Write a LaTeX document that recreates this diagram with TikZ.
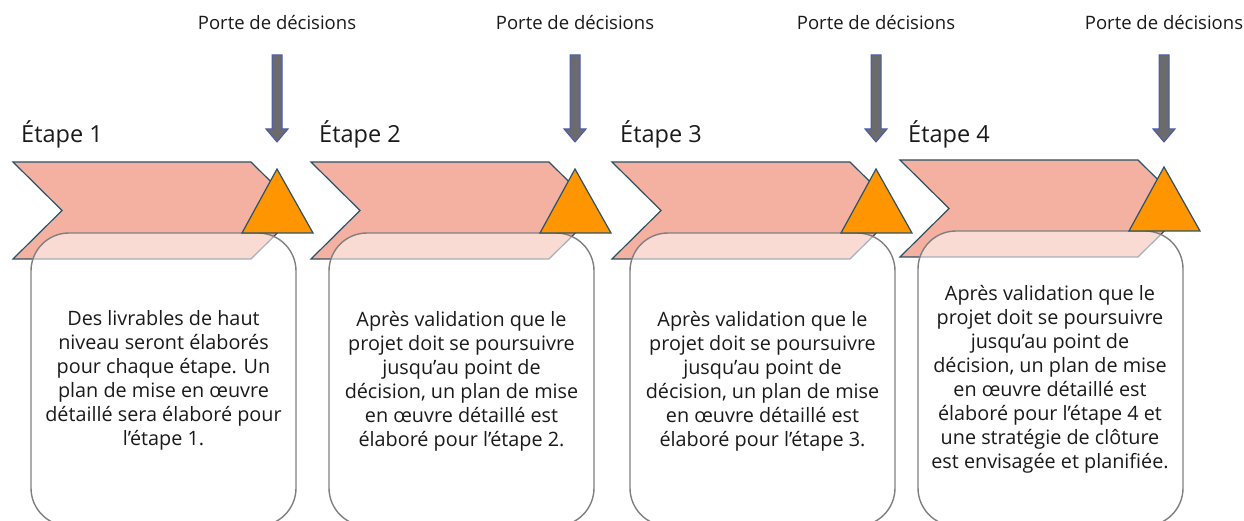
\documentclass[tikz,border=0pt]{standalone}
\usepackage{fontspec}
\setmainfont{Open Sans}
\definecolor{chevfill}{HTML}{F4B0A0}
\definecolor{edgecol}{HTML}{2B5368}
\definecolor{orangec}{HTML}{FF9500}
\definecolor{cardedge}{HTML}{7F7F7F}
\definecolor{gatefill}{HTML}{6B6B6E}
\definecolor{gateedge}{HTML}{4A5AAE}
\definecolor{txt}{HTML}{1A1A1A}
\begin{document}
\begin{tikzpicture}[x=1pt,y=-1pt,
  chev/.style={fill=chevfill, draw=edgecol, line width=1.2pt, line join=miter},
  tri/.style={fill=orangec, draw=edgecol, line width=1.2pt, line join=miter},
  card/.style={draw=cardedge, fill=white, fill opacity=0.55, draw opacity=1, line width=1.4pt, rounded corners=38pt},
  gate/.style={draw=gateedge, fill=gatefill, line width=1pt, line join=miter},
  gatelabel/.style={font=\fontsize{18.5}{22}\selectfont, text=txt, inner sep=0pt},
  stagelabel/.style={font=\fontsize{23.5}{28}\selectfont, text=txt, inner sep=0pt, anchor=west},
  bodytext/.style={font=\fontsize{19.8}{24}\selectfont, text=txt, align=center, inner sep=0pt}
]
\useasboundingbox (0,0) rectangle (1244,521);
\foreach \xl/\yt/\n in {13/162/1, 311/162/2, 612/162/3, 900/160/4}{
  % chevron
  \draw[chev] (\xl,\yt) -- ++(238,0) -- ++(49,48.5) -- ++(-49,48.5) -- ++(-238,0) -- ++(49,-48.5) -- cycle;
  % card
  \path[card] (\xl+18,\yt+71) rectangle (\xl+283,526);
  \coordinate (card\n) at (\xl+150.5,\yt+71);
  % triangle
  \draw[tri] (\xl+264,\yt+7) -- (\xl+300,\yt+71) -- (\xl+229,\yt+71) -- cycle;
  % gate arrow
  \draw[gate] (\xl+259,55) -- (\xl+269,55) -- (\xl+269,129) -- (\xl+275,129) -- (\xl+264,142) -- (\xl+253,129) -- (\xl+259,129) -- cycle;
  \node[gatelabel] (gate\n) at (\xl+264,23) {Porte de décisions};
  \node[stagelabel] (stage\n) at (\xl+8,134) {Étape \n};
}
\node[bodytext] (t1) at (163.5,380) {Des livrables de haut\\niveau seront élaborés\\pour chaque étape. Un\\plan de mise en œuvre\\détaillé sera élaboré pour\\l’étape 1.};
\node[bodytext] (t2) at (461.5,381) {Après validation que le\\projet doit se poursuivre\\jusqu’au point de\\décision, un plan de mise\\en œuvre détaillé est\\élaboré pour l’étape 2.};
\node[bodytext] (t3) at (762.5,381) {Après validation que le\\projet doit se poursuivre\\jusqu’au point de\\décision, un plan de mise\\en œuvre détaillé est\\élaboré pour l’étape 3.};
\node[bodytext] (t4) at (1050,379) {Après validation que le\\projet doit se poursuivre\\jusqu’au point de\\décision, un plan de mise\\en œuvre détaillé est\\élaboré pour l’étape 4 et\\une stratégie de clôture\\est envisagée et planifiée.};
\end{tikzpicture}
\end{document}
